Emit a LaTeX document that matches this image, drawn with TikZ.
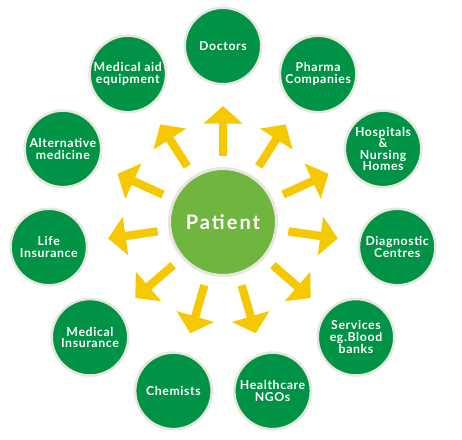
\documentclass[tikz,border=0pt]{standalone}
\usepackage{fontspec}
\setmainfont{Lato}
\newfontfamily\hubfont{Lato}[LetterSpace=5]
\newfontfamily\corefont{Lato}[LetterSpace=10]
\usepackage{tikz}
\usetikzlibrary{arrows.meta, shadows}
\definecolor{hubgreen}{HTML}{009245}
\definecolor{coregreen}{HTML}{6FB53F}
\definecolor{rimgray}{HTML}{E8E6DE}
\definecolor{rayyellow}{HTML}{F5C800}

\begin{document}
\begin{tikzpicture}[
  x=1pt, y=1pt,
  hub/.style={circle, draw=rimgray, line width=2.5pt, fill=hubgreen,
    minimum size=76.5pt, inner sep=0pt, text=white, align=center,
    font=\hubfont\bfseries\fontsize{12.3}{11.3}\selectfont,
    drop shadow={shadow xshift=0.6pt, shadow yshift=-0.8pt, opacity=0.18}},
  core/.style={circle, draw=rimgray, line width=3pt, fill=coregreen,
    minimum size=107pt, inner sep=0pt, text=white,
    font=\corefont\bfseries\fontsize{20}{22}\selectfont,
    drop shadow={shadow xshift=0.6pt, shadow yshift=-0.8pt, opacity=0.18}},
  ray/.style={-{Triangle[width=38pt, length=17.5pt]}, line width=8.3pt, rayyellow,
    shorten <=11pt, shorten >=20.5pt},
]
  \useasboundingbox (-223,-217) rectangle (239,222);

  \node[core] (patient) at (0,0) {Patient};

  \node[hub] (doctors) at (90:176) {Doctors};
  \node[hub] (pharma) at (57.27:176) {Pharma\\Companies};
  \node[hub] (hospitals) at (24.55:176) {Hospitals\\\&\\Nursing\\Homes};
  \node[hub] (diagnostic) at (-8.18:176) {Diagnostic\\Centres};
  \node[hub] (services) at (-40.91:176) {Services\\eg.Blood\\banks};
  \node[hub] (ngos) at (-73.64:176) {Healthcare\\NGOs};
  \node[hub] (chemists) at (-106.36:176) {Chemists};
  \node[hub] (medins) at (-139.09:176) {Medical\\Insurance};
  \node[hub] (lifeins) at (-171.82:176) {Life\\Insurance};
  \node[hub] (altmed) at (155.45:176) {Alternative\\medicine};
  \node[hub] (medaid) at (122.73:176) {Medical aid\\equipment};

  \draw[ray] (patient) -- (doctors);
  \draw[ray] (patient) -- (pharma);
  \draw[ray] (patient) -- (hospitals);
  \draw[ray] (patient) -- (diagnostic);
  \draw[ray] (patient) -- (services);
  \draw[ray] (patient) -- (ngos);
  \draw[ray] (patient) -- (chemists);
  \draw[ray] (patient) -- (medins);
  \draw[ray] (patient) -- (lifeins);
  \draw[ray] (patient) -- (altmed);
  \draw[ray] (patient) -- (medaid);
\end{tikzpicture}
\end{document}
